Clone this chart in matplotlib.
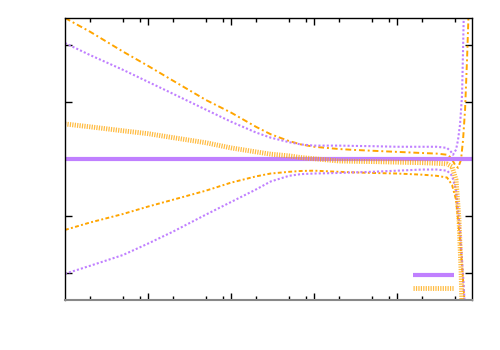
import numpy as np
import matplotlib
matplotlib.use("Agg")
import matplotlib.pyplot as plt

# ---- data ----
x_main = [1, 2, 5, 10, 20, 50, 100, 200, 300, 500, 700, 1000, 2000, 3000, 5000, 10000,
          20000, 30000, 40000]

# purple central (flat)
purple_mid_x = [1, 80000]
purple_mid_y = [0.0, 0.0]

# orange central (hatched)
orange_mid_x = x_main + [46000, 51400, 55800, 59000, 60700, 62000]
orange_mid_y = [0.62, 0.57, 0.50, 0.45, 0.38, 0.29, 0.20, 0.13, 0.09, 0.06, 0.03, 0.01,
                -0.03, -0.035, -0.04, -0.05, -0.06, -0.07, -0.08,
                -0.13, -0.36, -1.06, -1.94, -2.64, -3.2]

# orange upper band (dash-dot)
orange_up_x = x_main + [44800, 50000, 54300, 59000, 62400, 66000, 69700, 73700]
orange_up_y = [2.48, 2.24, 1.89, 1.64, 1.38, 1.04, 0.82, 0.57, 0.44, 0.32, 0.26, 0.22,
               0.18, 0.165, 0.15, 0.13, 0.11, 0.10, 0.08,
               0.03, -0.10, -0.15, -0.01, 0.34, 0.87, 1.75, 2.8]

# orange lower band (dotted)
orange_lo_x = x_main + [46000, 51400, 57400, 62400, 66000]
orange_lo_y = [-1.24, -1.11, -0.96, -0.83, -0.71, -0.55, -0.41, -0.30, -0.25, -0.22, -0.205,
               -0.20, -0.22, -0.23, -0.24, -0.25, -0.27, -0.29, -0.32,
               -0.45, -0.71, -1.41, -2.11, -2.64]

# purple upper band (dotted)
purple_up_x = x_main + [44800, 47300, 51400, 54300, 57400, 60700, 62400, 64200]
purple_up_y = [2.04, 1.83, 1.57, 1.36, 1.15, 0.87, 0.66, 0.47, 0.38, 0.30, 0.26, 0.24,
               0.24, 0.235, 0.23, 0.22, 0.22, 0.22, 0.20,
               0.13, 0.08, 0.17, 0.34, 0.61, 1.13, 1.92, 2.8]

# purple lower band (dotted)
purple_lo_x = x_main + [46000, 51400, 57400, 62400, 66000]
purple_lo_y = [-2.01, -1.87, -1.68, -1.48, -1.27, -0.97, -0.75, -0.53, -0.39, -0.29, -0.26,
               -0.25, -0.24, -0.23, -0.22, -0.20, -0.18, -0.18, -0.20,
               -0.29, -0.54, -1.24, -2.03, -2.64]

x_major = [10, 100, 1000, 10000]
x_minor = [m * 10 ** k for k in range(0, 5) for m in (2, 5, 8)]
y_ticks = [-2, -1, 0, 1, 2]

PURPLE = "#c080ff"
ORANGE = "#ffa500"

fig = plt.figure(figsize=(5, 3.5), dpi=100)
ax = fig.add_axes([65 / 500, 1 - 300 / 350, (472 - 65) / 500, (300 - 18) / 350])

ax.plot(orange_up_x, orange_up_y, color=ORANGE, lw=1.4, linestyle=(0, (3, 1.5, 1, 1.5)))
ax.plot(purple_up_x, purple_up_y, color=PURPLE, lw=1.5, linestyle=(0, (1, 1)))
ax.plot(orange_lo_x, orange_lo_y, color=ORANGE, lw=1.4, linestyle=(0, (2, 1.2, 1, 1.2)))
ax.plot(purple_lo_x, purple_lo_y, color=PURPLE, lw=1.5, linestyle=(0, (1, 1)))
h1, = ax.plot(purple_mid_x, purple_mid_y, color=PURPLE, lw=3.0, solid_capstyle="butt")
h2, = ax.plot(orange_mid_x, orange_mid_y, color=ORANGE, lw=3.5, alpha=0.75,
              linestyle=(0, (0.25, 0.25)))

ax.set_xscale("log")
ax.set_xlim(1, 80000)
ax.set_ylim(-2.47, 2.48)

ax.set_xticks(x_major)
ax.set_xticks([v for v in x_minor if v < 80000], minor=True)
ax.set_yticks(y_ticks)
ax.yaxis.set_minor_locator(matplotlib.ticker.NullLocator())
ax.tick_params(axis="both", which="major", direction="in", length=5, width=1,
               top=True, right=True, labelbottom=False, labelleft=False)
ax.tick_params(axis="both", which="minor", direction="in", length=3, width=1,
               top=True, right=True)

for s in ("left", "top", "right"):
    ax.spines[s].set_color("black")
    ax.spines[s].set_linewidth(1.0)
ax.spines["bottom"].set_color("#888888")
ax.spines["bottom"].set_linewidth(1.5)

leg = ax.legend([h1, h2], [" ", " "], loc="lower right", markerfirst=False,
                bbox_to_anchor=((454 - 65) / 407, 0.02), frameon=False,
                handlelength=3.7, handletextpad=0.0, borderpad=0.0,
                borderaxespad=0.0, fontsize=8, labelspacing=0.3)

fig.savefig("out.png", dpi=100)
